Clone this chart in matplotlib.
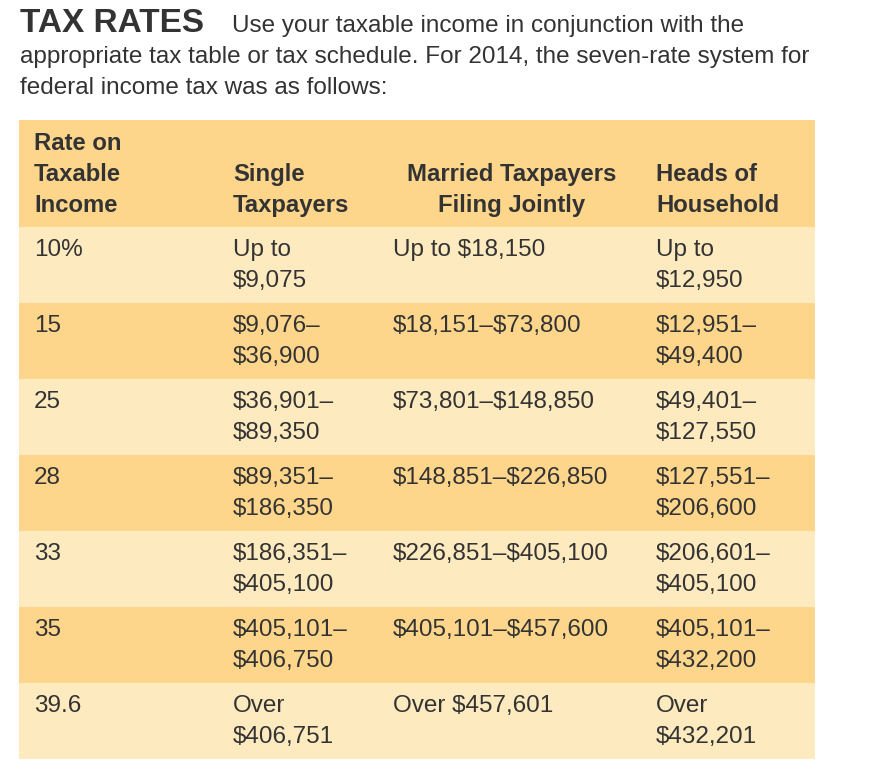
import matplotlib.pyplot as plt
from matplotlib.patches import Rectangle

plt.rcParams['font.family'] = ['Liberation Sans', 'DejaVu Sans']
plt.rcParams['text.parse_math'] = False

# data
title = "TAX RATES"
intro = ["Use your taxable income in conjunction with the",
         "appropriate tax table or tax schedule. For 2014, the seven-rate system for",
         "federal income tax was as follows:"]

headers = [["Rate on", "Taxable", "Income"],
           ["Single", "Taxpayers"],
           ["Married Taxpayers", "Filing Jointly"],
           ["Heads of", "Household"]]

rates = ["10%", "15", "25", "28", "33", "35", "39.6"]
single = [["Up to", "$9,075"], ["$9,076–", "$36,900"], ["$36,901–", "$89,350"],
          ["$89,351–", "$186,350"], ["$186,351–", "$405,100"],
          ["$405,101–", "$406,750"], ["Over", "$406,751"]]
married = ["Up to $18,150", "$18,151–$73,800", "$73,801–$148,850",
           "$148,851–$226,850", "$226,851–$405,100", "$405,101–$457,600",
           "Over $457,601"]
heads = [["Up to", "$12,950"], ["$12,951–", "$49,400"], ["$49,401–", "$127,550"],
         ["$127,551–", "$206,600"], ["$206,601–", "$405,100"],
         ["$405,101–", "$432,200"], ["Over", "$432,201"]]

dark = "#fdd68b"
light = "#feeabf"
ink = "#333333"
fs = 17.5
hfont = dict(fontsize=17.2, fontweight='bold', color=ink)

W, H = 871, 778
fig = plt.figure(figsize=(W / 100, H / 100), dpi=100)
ax = fig.add_axes([0, 0, 1, 1])
ax.set_xlim(0, W)
ax.set_ylim(H, 0)
ax.axis('off')

# title + intro
ax.text(20, 32, title, fontsize=24, fontweight='bold', color=ink, va='baseline')
ax.text(232, 32, intro[0], fontsize=fs, color=ink, va='baseline')
ax.text(20, 63, intro[1], fontsize=fs, color=ink, va='baseline')
ax.text(20, 94, intro[2], fontsize=fs, color=ink, va='baseline')

left, right = 19, 815
top = 120
head_h = 107
row_h = 76
col_x = [34, 233, 393, 656]
lh = 31

# header
ax.add_patch(Rectangle((left, top), right - left, head_h, color=dark, lw=0))
for i, lines in enumerate(headers):
    n = len(lines)
    for j, s in enumerate(lines):
        y = 150 + (3 - n + j) * lh
        if i == 2:
            ax.text(512, y, s, va='baseline', ha='center', **hfont)
        else:
            ax.text(col_x[i], y, s, va='baseline', **hfont)

# rows
for r in range(len(rates)):
    y0 = top + head_h + r * row_h
    ax.add_patch(Rectangle((left, y0), right - left, row_h,
                           color=light if r % 2 == 0 else dark, lw=0))
    b = y0 + 29
    ax.text(col_x[0], b, rates[r], fontsize=fs, color=ink, va='baseline')
    for j, s in enumerate(single[r]):
        ax.text(col_x[1], b + j * lh, s, fontsize=fs, color=ink, va='baseline')
    ax.text(col_x[2], b, married[r], fontsize=fs, color=ink, va='baseline')
    for j, s in enumerate(heads[r]):
        ax.text(col_x[3], b + j * lh, s, fontsize=fs, color=ink, va='baseline')

fig.savefig("out.png", dpi=100, facecolor="white")
